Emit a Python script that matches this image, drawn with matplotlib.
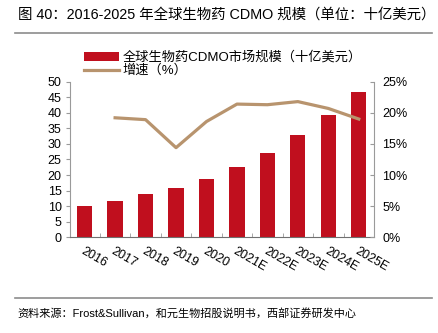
import numpy as np
import matplotlib.pyplot as plt
from matplotlib.ticker import FuncFormatter

plt.rcParams['font.family'] = ['Liberation Sans', 'Noto Sans CJK SC']
plt.rcParams['font.size'] = 9

years = ["2016", "2017", "2018", "2019", "2020", "2021E", "2022E", "2023E", "2024E", "2025E"]
market_size = [10.0, 11.8, 13.9, 15.8, 18.6, 22.5, 27.0, 33.0, 39.3, 46.6]
growth_years = ["2017", "2018", "2019", "2020", "2021E", "2022E", "2023E", "2024E", "2025E"]
growth = [19.2, 18.9, 14.4, 18.6, 21.4, 21.3, 21.8, 20.7, 19.0]

bar_color = "#C00F1E"
line_color = "#B8946E"
axis_color = "#9A9A9A"

fig = plt.figure(figsize=(4.39, 3.33), dpi=100)
ax = fig.add_axes([0.1595, 0.2874, 0.852 - 0.1595, 0.7547 - 0.2874])
ax2 = ax.twinx()

x = np.arange(len(years))
bars = ax.bar(x, market_size, width=0.5, color=bar_color, zorder=2,
              label="全球生物药CDMO市场规模（十亿美元）")
gx = [years.index(y) for y in growth_years]
line, = ax2.plot(gx, growth, color=line_color, lw=2.3, zorder=3, label="增速（%）")

ax.set_xlim(-0.48, 9.5)
ax.set_ylim(0, 50)
ax.set_yticks(range(0, 51, 5))
ax2.set_ylim(0, 25)
ax2.set_yticks(range(0, 26, 5))
ax2.yaxis.set_major_formatter(FuncFormatter(lambda v, p: f"{int(v)}%"))

ax.set_xticks(x)
ax.set_xticklabels(years, rotation=-30, ha="left", va="top", rotation_mode="anchor")
ax.tick_params(axis="x", length=0, pad=6)
ax.set_xticks(np.arange(0.5, 9.5, 1), minor=True)
ax.tick_params(axis="x", which="minor", direction="in", length=3, color=axis_color)

for a in (ax, ax2):
    for s in a.spines.values():
        s.set_visible(False)
ax.spines["left"].set_visible(True)
ax.spines["left"].set_color(axis_color)
ax.spines["bottom"].set_visible(True)
ax.spines["bottom"].set_color("#707070")
ax2.spines["right"].set_visible(True)
ax2.spines["right"].set_color(axis_color)
ax.tick_params(axis="y", length=3, color=axis_color, pad=3)
ax2.tick_params(axis="y", direction="in", length=3, color=axis_color, pad=6)

fig.legend(handles=[bars, line], loc="upper left", bbox_to_anchor=(0.18, 0.862),
           frameon=False, handlelength=2.6, handletextpad=0.3, labelspacing=0.05,
           borderaxespad=0, fontsize=9.5)

fig.text(0.04, 0.955, "图 40：2016-2025 年全球生物药 CDMO 规模（单位：十亿美元）",
         fontsize=10.4, va="center", ha="left")
fig.add_artist(plt.Line2D([0.035, 0.985], [0.9, 0.9], color="#8C8C8C", lw=1.2))
fig.add_artist(plt.Line2D([0.035, 0.985], [0.105, 0.105], color="#8C8C8C", lw=1.2))
fig.text(0.04, 0.06, "资料来源：Frost&Sullivan，和元生物招股说明书，西部证券研发中心",
         fontsize=8, va="center", ha="left")

fig.savefig("out.png", dpi=100)
